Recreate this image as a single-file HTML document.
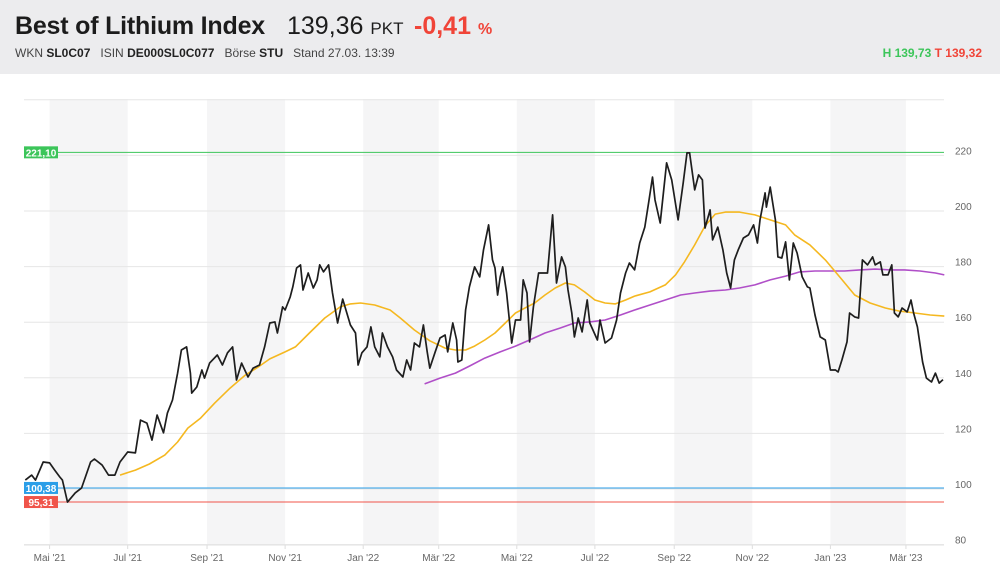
<!DOCTYPE html>
<html><head><meta charset="utf-8">
<style>
body{margin:0;width:1000px;height:574px;overflow:hidden;background:#fff;font-family:"Liberation Sans",Arial,sans-serif;position:relative}
#hdr{position:absolute;left:0;top:0;width:1000px;height:74px;background:#ececee}
#title{position:absolute;left:15px;top:12px;font-size:25px;font-weight:bold;color:#1c1c1c;white-space:nowrap;letter-spacing:-0.2px}
#price{position:absolute;left:287px;top:12px;font-size:25px;color:#1c1c1c;white-space:nowrap}
#price small{font-size:17px}
#chg{position:absolute;left:414px;top:12px;font-size:25px;font-weight:bold;color:#f04438;white-space:nowrap}
#chg small{font-size:16px}
#sub{position:absolute;left:15px;top:46px;font-size:12px;color:#444;white-space:nowrap}
#sub b{color:#222}
#hl{position:absolute;right:18px;top:46px;font-size:12px;font-weight:bold;white-space:nowrap}
svg{position:absolute;left:0;top:0}
</style></head><body>
<div id="hdr">
<div id="title">Best of Lithium Index</div>
<div id="price">139,36 <small>PKT</small></div>
<div id="chg">-0,41 <small>%</small></div>
<div id="sub">WKN <b>SL0C07</b>&nbsp;&nbsp; ISIN <b>DE000SL0C077</b>&nbsp;&nbsp; Börse <b>STU</b>&nbsp;&nbsp; Stand 27.03. 13:39</div>
<div id="hl"><span style="color:#3cc55a">H 139,73</span> <span style="color:#f04438">T 139,32</span></div>
</div>
<svg id="chart" width="1000" height="574"></svg>
<script>
// days since 2021-04-11
const priceDays=[1,6,9,15,20,24,28,30,34,40,45,48,52,55,61,66,71,75,81,87,91,96,100,104,109,112,116,120,123,127,130,131,135,139,141,145,151,155,159,163,166,170,175,179,184,188,192,196,198,202,204,208,210,213,216,218,222,226,229,231,234,238,241,245,249,255,259,261,264,268,271,274,278,280,284,288,291,296,299,302,305,309,312,315,317,321,325,329,331,335,338,339,342,345,348,352,356,359,363,366,368,370,372,374,377,381,384,388,390,393,395,398,402,405,409,413,416,420,423,425,428,430,433,436,440,442,448,450,454,459,463,466,470,473,477,481,485,488,491,493,497,502,506,511,515,518,520,524,527,530,532,536,538,542,546,549,552,555,558,562,566,570,573,575,579,580,583,587,589,592,595,598,601,604,608,612,614,618,622,626,630,634,636,639,643,645,649,652,655,659,663,665,669,671,675,678,680,683,686,690,693,695,698,702,705,709,712,715,718];
const priceVals=[103.2,105.0,103.2,109.7,109.4,106.8,104.3,103.2,95.3,98.6,100.4,104.3,109.7,110.8,108.6,105.0,105.0,109.7,113.3,113.0,124.8,123.7,117.6,126.6,120.2,127.3,132.0,141.7,150.0,151.1,141.7,134.5,136.7,142.8,139.9,145.3,148.2,144.6,149.0,151.1,139.2,145.3,140.3,143.5,144.6,151.1,159.7,160.1,156.1,165.5,164.4,169.1,172.7,179.5,180.6,171.6,177.7,172.3,175.2,180.6,178.1,180.6,170.5,159.7,168.3,159.0,156.1,144.6,149.0,151.1,158.3,151.1,147.5,156.1,151.1,147.5,142.8,140.3,146.4,142.8,152.5,151.1,159.0,149.3,143.5,149.0,154.3,155.4,149.3,159.7,153.6,145.7,146.4,164.4,172.7,179.9,176.3,186.0,195.0,182.4,179.5,169.8,176.3,179.9,170.5,152.5,160.8,160.8,175.2,170.5,152.9,165.5,177.7,177.7,177.7,198.6,174.1,183.5,179.9,171.6,163.3,154.7,161.5,156.5,168.0,159.7,153.6,160.8,152.5,154.3,160.8,170.5,177.7,181.3,178.8,188.5,194.2,202.9,212.2,204.0,195.7,217.3,211.2,196.8,210.1,220.9,220.9,207.6,213.0,211.2,193.9,200.4,189.6,194.2,186.0,177.7,172.3,182.4,186.0,190.3,191.4,195.0,188.5,196.8,206.5,201.4,208.6,196.8,183.5,183.1,188.9,175.2,188.5,184.9,176.3,172.7,172.3,162.6,154.7,153.6,142.8,142.8,142.1,146.4,152.9,163.3,161.9,161.5,182.4,180.6,183.5,180.6,181.7,177.0,177.0,180.6,163.3,161.9,165.1,163.7,168.0,163.3,158.3,145.7,139.9,138.5,141.7,138.1,139.36];
const maShortDays=[75,87,98,110,120,128,138,149,161,173,183,192,204,212,223,235,247,255,263,274,286,294,305,317,329,337,345,352,360,368,376,384,393,399,407,415,423,430,438,446,454,462,470,477,489,501,509,516,524,532,540,548,559,571,583,595,602,614,626,638,649,661,673,684,696,708,719];
const maShortVals=[105.0,106.8,109.0,112.2,116.9,121.9,125.5,130.9,136.3,141.0,143.9,146.8,149.3,151.1,156.1,161.5,165.5,166.6,166.9,166.2,164.4,161.5,157.2,153.3,150.7,150.0,150.0,151.4,153.6,156.1,159.7,163.3,165.5,166.9,169.8,172.3,174.1,173.4,170.9,168.0,166.9,166.6,168.0,169.4,170.9,173.4,177.0,181.7,187.8,194.6,198.9,199.6,199.6,198.6,196.8,195.0,191.4,187.8,182.4,175.9,169.8,166.9,165.1,164.0,163.3,162.6,162.2];
const maLongDays=[313,325,337,348,360,372,384,395,407,419,430,442,454,466,477,489,501,513,524,536,548,559,571,583,595,606,618,630,641,653,665,677,688,700,712,719];
const maLongVals=[137.8,139.9,141.7,144.2,147.1,149.3,151.4,153.6,156.1,157.9,159.7,160.1,160.8,162.6,164.4,166.2,168.0,169.8,170.5,171.2,171.6,172.3,173.4,175.2,176.6,178.1,178.4,178.4,178.4,178.8,179.1,178.8,178.8,178.4,177.7,177.0];
const yTicks=[80,100,120,140,160,180,200,220,240];
const monthLabels=["Mai '21","Jul '21","Sep '21","Nov '21","Jan '22","Mär '22","Mai '22","Jul '22","Sep '22","Nov '22","Jan '23","Mär '23"];
const monthDays=[20,81,143,204,265,324,385,446,508,569,630,689];
const refLabels=["221,10","100,38","95,31"];
const refVals=[221.10,100.38,95.31];
const refColors=["#3cc55a","#2a9ee8","#f0544a"];

const NS="http://www.w3.org/2000/svg";
const svg=document.getElementById('chart');
const X0=24,X1=944;
function xs(d){return 24+(d-0)*1.28;}
function ys(v){return 211-(v-200)*2.78;}
function mk(tag,attrs,parent){const e=document.createElementNS(NS,tag);for(const k in attrs)e.setAttribute(k,attrs[k]);(parent||svg).appendChild(e);return e;}

// bands
for(let i=0;i<monthDays.length;i+=2){
  const x1=xs(monthDays[i]);const x2=i+1<monthDays.length?xs(monthDays[i+1]):X1;
  const b=mk('rect',{x:x1,y:99,width:x2-x1,height:446,fill:'#f5f5f6'});
  
  
}
// grid + y labels
yTicks.forEach(t=>{
  const l=mk('line',{x1:X0,x2:X1,y1:ys(t),y2:ys(t),stroke:'#e6e6e6','stroke-width':1});
  
  
  if(t<240){
    const tx=mk('text',{x:955,y:ys(t)-1,'font-size':10,fill:'#666','font-family':'Liberation Sans, sans-serif'});
    tx.textContent=t;
    
    
  }
});
// x labels
monthDays.forEach((d,i)=>{
  const tk=mk('line',{x1:xs(d),x2:xs(d),y1:545,y2:549,stroke:'#ddd'});
  
  
  const tx=mk('text',{x:xs(d),y:561,'font-size':10,fill:'#666','text-anchor':'middle','font-family':'Liberation Sans, sans-serif'});
  tx.textContent=monthLabels[i];
  
  
});
// reference lines
refVals.forEach((v,i)=>{
  const l=mk('line',{x1:X0,x2:X1,y1:ys(v),y2:ys(v),stroke:refColors[i],'stroke-width':1});
  
  
});
function poly(days,vals,color,w,name){
  const p=mk('polyline',{points:days.map((d,i)=>xs(d).toFixed(1)+','+ys(vals[i]).toFixed(1)).join(' '),fill:'none',stroke:color,'stroke-width':w,'stroke-linejoin':'round'});
  
  
}
poly(maLongDays,maLongVals,'#b04fc8',1.6,'moving-average-200');
poly(maShortDays,maShortVals,'#f5b820',1.6,'moving-average-100');
poly(priceDays,priceVals,'#1e1e1e',1.7,'price-line');
// reference labels
refVals.forEach((v,i)=>{
  const g=mk('g',{});
  
  
  mk('rect',{x:24,y:ys(v)-6,width:34,height:12,fill:refColors[i]},g);
  const t=mk('text',{x:41,y:ys(v)+4,'font-size':10,'font-weight':'bold',fill:'#fff','text-anchor':'middle','font-family':'Liberation Sans, sans-serif'},g);
  t.textContent=refLabels[i];
});
mk('line',{x1:X0,x2:X1,y1:545,y2:545,stroke:'#e0e0e0'});
</script>
</body></html>
